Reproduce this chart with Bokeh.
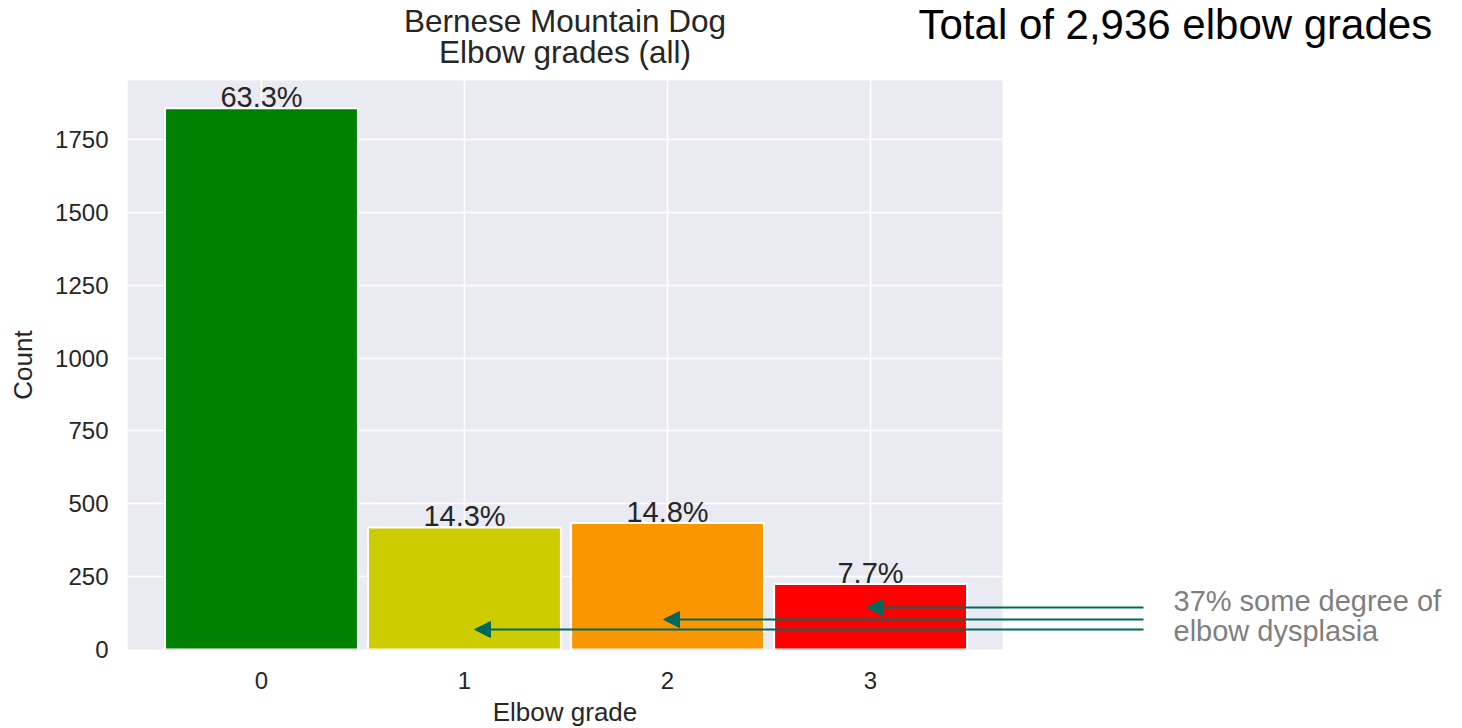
import math

from bokeh.plotting import figure
from bokeh.models import (ColumnDataSource, Range1d, FixedTicker, Label, Arrow,
                          NormalHead)
from bokeh.embed import file_html
from bokeh.resources import INLINE

# Elbow grade counts (Bernese Mountain Dog)
grades = [0, 1, 2, 3]
counts = [1858, 419, 434, 225]
bar_colors = ["#008000", "#CCCC00", "#FA9600", "#FF0000"]
y_ticks = [0, 250, 500, 750, 1000, 1250, 1500, 1750]

total = sum(counts)
pct_labels = [f"{100 * c / total:.1f}%" for c in counts]
dysplasia_pct = round(100 * sum(counts[1:]) / total)

FONT = "Liberation Sans"
DARK = "#262626"

# canvas size and the shaded plotting area (pixels / data units)
W, H = 1462, 728
AL, AR, AT, AB = 127, 1002, 80, 649
AX0, AX1 = -0.66, 3.65
AY0, AY1 = 0, 1953

# the frame spans from the left axis to the right edge and up to the top,
# so the notes around the chart share the same coordinates
sx = (AR - AL) / (AX1 - AX0)
sy = (AB - AT) / (AY1 - AY0)
X_END = AX0 + (W - AL) / sx
Y_END = AY0 + AB / sy


def px_x(px):
    return AX0 + (px - AL) / sx


def px_y(py):
    return AY0 + (AB - py) / sy


p = figure(width=W, height=H, output_backend="svg", toolbar_location=None,
           x_range=Range1d(AX0, X_END), y_range=Range1d(AY0, Y_END),
           min_border_left=AL, min_border_right=0,
           min_border_top=0, min_border_bottom=H - AB)
p.background_fill_color = "white"
p.border_fill_color = "white"
p.outline_line_color = None

# shaded plotting area, drawn beneath the white grid
p.quad(left=[AX0], right=[AX1], bottom=[AY0 - 3], top=[AY1],
       fill_color="#EAEAF2", line_color=None, level="image")

src = ColumnDataSource(dict(x=grades, top=counts, color=bar_colors,
                            label=pct_labels))
p.vbar(x="x", top="top", bottom=0, width=0.95, fill_color="color",
       line_color="white", line_width=2, source=src)

p.text(x="x", y="top", text="label", source=src, text_align="center",
       text_baseline="bottom", y_offset=5, text_font_size="29px",
       text_color=DARK, text_font={"value": FONT})

# axes
p.xaxis.ticker = FixedTicker(ticks=grades)
p.yaxis.ticker = FixedTicker(ticks=y_ticks)
p.xgrid.ticker = FixedTicker(ticks=grades)
for ax in (p.xaxis[0], p.yaxis[0]):
    ax.axis_line_color = None
    ax.major_tick_line_color = None
    ax.minor_tick_line_color = None
    ax.major_label_text_font = FONT
    ax.major_label_text_font_size = "24px"
    ax.major_label_text_color = DARK
p.yaxis.major_label_standoff = 13
p.xaxis.major_label_standoff = 16

for g in (p.xgrid[0], p.ygrid[0]):
    g.grid_line_color = "white"
    g.grid_line_width = 1.6

# axis titles, centred on the shaded area
cx = (AX0 + AX1) / 2
cy = (AY0 + AY1) / 2
p.add_layout(Label(x=cx, y=px_y(711), text="Elbow grade", text_align="center",
                   text_baseline="middle", text_font=FONT,
                   text_font_size="26px", text_color=DARK), "below")
p.add_layout(Label(x=px_x(22), y=cy, text="Count", angle=math.pi / 2,
                   text_align="center", text_baseline="middle", text_font=FONT,
                   text_font_size="26px", text_color=DARK), "left")

# two-line title centred over the shaded area
for txt, py in (("Bernese Mountain Dog", 38), ("Elbow grades (all)", 69)):
    p.add_layout(Label(x=cx, y=px_y(py), text=txt, text_align="center",
                       text_baseline="bottom", text_font=FONT,
                       text_font_size="31.5px", text_color=DARK))

p.add_layout(Label(x=px_x(918), y=px_y(0), text=f"Total of {total:,} elbow grades",
                   text_align="left", text_baseline="top",
                   text_font=FONT, text_font_size="42px", text_color="black"))

# arrows pointing into the dysplastic grades
arrow_y_px = [607, 619, 629]
arrow_tip_px = [866, 663, 474]
for ty, tx in zip(arrow_y_px, arrow_tip_px):
    p.add_layout(Arrow(x_start=px_x(1143), y_start=px_y(ty),
                       x_end=px_x(tx), y_end=px_y(ty),
                       line_color="#00695C", line_width=2,
                       end=NormalHead(size=16, fill_color="#00695C",
                                      line_color="#00695C", line_width=1)))

for txt, py in ((f"{dysplasia_pct}% some degree of", 616),
                ("elbow dysplasia", 646)):
    p.add_layout(Label(x=px_x(1173), y=px_y(py), text=txt, text_align="left",
                       text_baseline="bottom", text_font=FONT,
                       text_font_size="29px", text_color="#7F7F7F"))

open("out.html", "w").write(file_html(p, INLINE))
